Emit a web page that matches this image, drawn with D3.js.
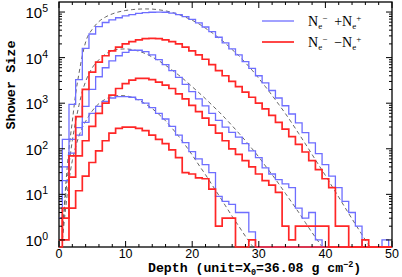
<!DOCTYPE html>
<html><head><meta charset="utf-8">
<script src="https://cdn.jsdelivr.net/npm/d3@7"></script>
<style>body{margin:0;background:#fff}</style>
</head><body>
<svg id="c" width="402" height="277"></svg>
<script>
// ---- data ----
const depth = d3.range(0, 51); // bin centres (X0)
const sumHi  = [20,160,940,3300,16000,33000,48000,59000,67000,75000,82000,88000,93000,97000,99000,100000,99000,95000,88000,79000,69000,58000,47000,37000,28000,21000,15500,11500,8200,5800,4000,2800,1900,1300,880,580,370,225,135,78,45,25,14,7,4,2,0,0,0,1,0];
const difHi  = [1,5,70,510,2000,4800,8000,11000,14000,17000,20000,22500,24500,26000,26500,26000,24500,22500,20000,17000,14000,11500,9200,7000,5200,4000,3000,2300,1750,1350,1000,750,540,380,270,185,125,85,55,35,22,14,2,2,0,0,1,0,0,0,0];
const sumMid = [7,40,160,290,850,2000,3800,6000,8500,11000,13000,14500,14500,13500,11500,9000,7000,5200,3700,2600,1800,1250,870,600,420,300,230,180,130,90,64,38,28,21,17,14,5,3,4,1,0,0,0,0,0,0,0,0,0,0,0];
const difMid = [1,3,24,70,150,310,600,1000,1500,2100,2700,3200,3500,3500,3300,2900,2500,2100,1600,1250,900,650,470,330,220,150,100,75,55,40,28,20,16,11,2,1,2,2,2,2,2,0,0,0,0,0,0,0,0,0,0];
const sumLo  = [3,20,80,200,380,600,850,1100,1300,1400,1400,1350,1200,1000,800,600,450,310,200,137,87,60,45,30,9,7,6,4,4,1.5,0,0,0,0,0,0,0,0,0,0,0,0,0,0,0,0,0,0,0,0,0];
const difLo  = [0,1,5,12,25,50,90,150,220,280,300,300,280,250,200,160,130,95,64,30,28,23,22,13,2,3,3,0,0,1,0,0,0,0,0,0,0,0,0,0,0,0,0,0,0,0,0,0,0,0,0];

const fitDepth = [0.5,1,1.5,2,2.5,3,3.5,4,5,6,7,8,9,10,11,12,13,14,15,16,17,18,19,20,21,22,23,24,25,26,27,28,29,30,31,32,33,34,35,36,37,38,39,40,41,42,43,44,45,46,47,48];
const fitHi  = [1,15,100,400,1600,4500,11000,22000,42000,62000,78000,91000,101000,108000,113000,116000,117000,116000,112000,106000,98000,88000,77000,66000,55000,44000,35000,27000,20500,15000,11000,7700,5300,3500,2300,1480,940,590,360,215,128,75,44,26,15,8.7,5,2.9,1.7,1.0,0.6,0.35];
const fitMid = [1.5,10,45,150,400,900,1800,3000,6000,9000,12000,14300,15300,15500,15000,13800,12200,10300,8500,6800,5300,4100,3100,2300,1700,1250,900,650,460,320,220,150,100,66,42,27,17,10.5,6.5,4,2.4,1.45,0.9,0.55,0.33,null,null,null,null,null,null,null];
const fitLo  = [1,5,20,55,110,190,290,400,680,980,1230,1400,1470,1450,1340,1160,960,760,570,410,280,185,118,73,44,27,16,9.5,5.6,3.3,2,1.2,0.75,0.45,0.27,null,null,null,null,null,null,null,null,null,null,null,null,null,null,null,null,null];

const xTicksMajor = [0,10,20,30,40,50];
const yDecades = [0,1,2,3,4,5];
const legendLabels = [["N","e","\u2212","  +N","e","+"],["N","e","\u2212","  \u2212N","e","+"]];

// ---- layout ----
const L = 59, R = 392, T = 2, B = 247;
const svg = d3.select("#c");
const x = d3.scaleLinear().domain([0, 50]).range([L, R]);
const y = d3.scaleLog().domain([0.7, 1.66e5]).range([B, T]);
const yv = v => y(Math.max(v, 0.7));

const blue = "#6e6eff", red = "#ff2626";

svg.append("defs").append("clipPath").attr("id","clip")
  .append("rect").attr("x", L).attr("y", T).attr("width", R-L).attr("height", B-T+1);

// frame
svg.append("rect").attr("x", L).attr("y", T).attr("width", R-L).attr("height", B-T)
  .attr("fill","none").attr("stroke","#000").attr("stroke-width",1.3);

const g = svg.append("g").attr("clip-path","url(#clip)");

// fits
const fitLine = d3.line().defined(d => d[1] != null).x(d => x(d[0])).y(d => y(d[1])).curve(d3.curveMonotoneX);
[fitHi, fitMid, fitLo].forEach(arr => {
  g.append("path").attr("d", fitLine(fitDepth.map((t,i)=>[t,arr[i]])))
    .attr("fill","none").attr("stroke","#555").attr("stroke-width",0.9).attr("stroke-dasharray","4,3");
});

const step = d3.line().x(d => x(d[0])).y(d => yv(d[1])).curve(d3.curveStep);
[sumHi, sumMid, sumLo].forEach(arr => {
  g.append("path").attr("d", step(depth.map((t,i)=>[t,arr[i]])))
    .attr("fill","none").attr("stroke",blue).attr("stroke-width",1.3);
});
[difHi, difMid, difLo].forEach(arr => {
  g.append("path").attr("d", step(depth.map((t,i)=>[t,arr[i]])))
    .attr("fill","none").attr("stroke",red).attr("stroke-width",1.7);
});

// ticks
const tk = svg.append("g").attr("stroke","#000").attr("stroke-width",1);
d3.range(0, 51, 2).forEach(t => {
  const len = xTicksMajor.includes(t) ? 6 : 3;
  tk.append("line").attr("x1",x(t)).attr("x2",x(t)).attr("y1",B).attr("y2",B-len);
  tk.append("line").attr("x1",x(t)).attr("x2",x(t)).attr("y1",T).attr("y2",T+len);
});
yDecades.forEach(d => {
  for (let m = 1; m <= 9; m++) {
    const v = m * Math.pow(10, d);
    if (v < 0.7 || v > 1.66e5) continue;
    const len = m === 1 ? 6 : 3;
    tk.append("line").attr("x1",L).attr("x2",L+len).attr("y1",y(v)).attr("y2",y(v));
    tk.append("line").attr("x1",R).attr("x2",R-len).attr("y1",y(v)).attr("y2",y(v));
  }
});

// x tick labels
svg.selectAll(".xl").data(xTicksMajor).enter().append("text")
  .attr("x", d => x(d)).attr("y", 257.5).attr("text-anchor","middle")
  .attr("font-family","Liberation Sans, Arial, sans-serif").attr("font-size",12.5)
  .text(d => d);

// y tick labels
yDecades.forEach(d => {
  const t = svg.append("text").attr("x", 48).attr("y", y(Math.pow(10,d)) + 6)
    .attr("text-anchor","end").attr("font-family","Liberation Sans, Arial, sans-serif").attr("font-size",15);
  t.append("tspan").text("10");
  t.append("tspan").attr("dy",-6).attr("font-size",10.5).text(d);
});

// axis titles
svg.append("text").attr("transform","translate(15,85) rotate(-90)").attr("text-anchor","middle")
  .attr("font-family","Liberation Mono, Courier New, monospace").attr("font-weight","bold").attr("font-size",13.5)
  .text("Shower Size");
const xt = svg.append("text").attr("x",148).attr("y",272)
  .attr("font-family","Liberation Mono, Courier New, monospace").attr("font-weight","bold").attr("font-size",13.2);
xt.append("tspan").text("Depth (unit=X");
xt.append("tspan").attr("dy",2.5).attr("font-size",8.5).text("0");
xt.append("tspan").attr("dy",-2.5).text("=36.08 g cm");
xt.append("tspan").attr("dy",-5).attr("font-size",8.5).text("\u22122");
xt.append("tspan").attr("dy",5).text(")");

// legend
[[blue,1.3,21],[red,1.7,42]].forEach((s,i) => {
  svg.append("line").attr("x1",262).attr("x2",294).attr("y1",s[2]).attr("y2",s[2])
    .attr("stroke",s[0]).attr("stroke-width",s[1]);
  const lab = legendLabels[i];
  const t = svg.append("text").attr("x",308).attr("y",s[2]+4.5).attr("xml:space","preserve")
    .attr("font-family","Liberation Serif, Times New Roman, serif").attr("font-size",14);
  t.append("tspan").text(lab[0]);
  t.append("tspan").attr("dy",3).attr("font-size",9).text(lab[1]);
  t.append("tspan").attr("dy",-8).attr("font-size",9).text(lab[2]);
  t.append("tspan").attr("dy",5).attr("font-size",14).attr("xml:space","preserve").text(lab[3]);
  t.append("tspan").attr("dy",3).attr("font-size",9).text(lab[4]);
  t.append("tspan").attr("dy",-8).attr("font-size",9).text(lab[5]);
});
</script>
</body></html>
